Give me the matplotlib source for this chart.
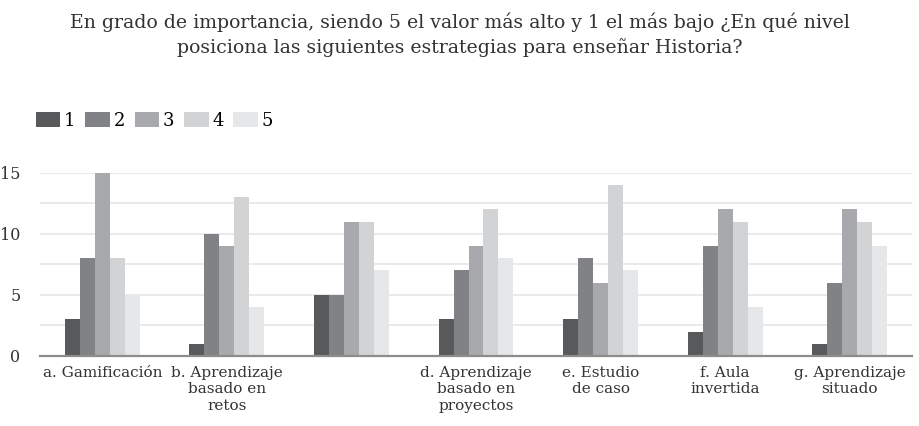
import numpy as np
import matplotlib.pyplot as plt

categories = ["a. Gamificación", "b. Aprendizaje\nbasado en\nretos", "",
              "d. Aprendizaje\nbasado en\nproyectos", "e. Estudio\nde caso",
              "f. Aula\ninvertida", "g. Aprendizaje\nsituado"]
series_names = ["1", "2", "3", "4", "5"]
values = {
    "1": [3, 1, 5, 3, 3, 2, 1],
    "2": [8, 10, 5, 7, 8, 9, 6],
    "3": [15, 9, 11, 9, 6, 12, 12],
    "4": [8, 13, 11, 12, 14, 11, 11],
    "5": [5, 4, 7, 8, 7, 4, 9],
}
colors = ["#58595b", "#808285", "#a7a9ac", "#d1d3d4", "#e6e7e8"]
title = ("En grado de importancia, siendo 5 el valor más alto y 1 el más bajo ¿En qué nivel\n"
         "posiciona las siguientes estrategias para enseñar Historia?")

plt.rcParams['font.family'] = ['DejaVu Serif']

W, H = 920, 426
fig = plt.figure(figsize=(W / 100, H / 100), dpi=100)
ax = fig.add_axes([40 / W, 1 - 356 / H, 872 / W, (356 - 172.7) / H])

x = np.arange(len(categories))
bw = 0.12
for i, name in enumerate(series_names):
    ax.bar(x + (i - 2) * bw, values[name], bw, color=colors[i], label=name,
           zorder=3, clip_on=False)

ax.set_xlim(-0.5, len(categories) - 0.5)
ax.set_ylim(0, 15)
ax.set_yticks([0, 5, 10, 15])
ax.set_yticks([2.5, 7.5, 12.5], minor=True)
ax.grid(axis='y', which='both', color='#e6e6e6', linewidth=1.2, zorder=0)
ax.set_xticks(x)
ax.set_xticklabels(categories, fontsize=11, color='#333333', linespacing=1.25)
ax.tick_params(axis='x', length=0, pad=7)
ax.tick_params(axis='y', which='both', length=0, pad=14, labelsize=11.5, labelcolor='#333333')
for s in ['top', 'right', 'left']:
    ax.spines[s].set_visible(False)
ax.spines['bottom'].set_color('#8c8c8c')
ax.spines['bottom'].set_linewidth(1.6)
ax.spines['bottom'].set_zorder(4)

ax.legend(loc='lower left', bbox_to_anchor=(36 / W, 1 - 130 / H), bbox_transform=fig.transFigure,
          ncol=5, frameon=False, fontsize=13, handlelength=1.35, handleheight=0.9,
          handletextpad=0.2, columnspacing=0.55, borderaxespad=0, borderpad=0)

fig.text(0.5, 1 - 35 / H, title, ha='center', va='center', fontsize=13.6,
         color='#333333', linespacing=1.4)

fig.savefig("out.png", dpi=100)
